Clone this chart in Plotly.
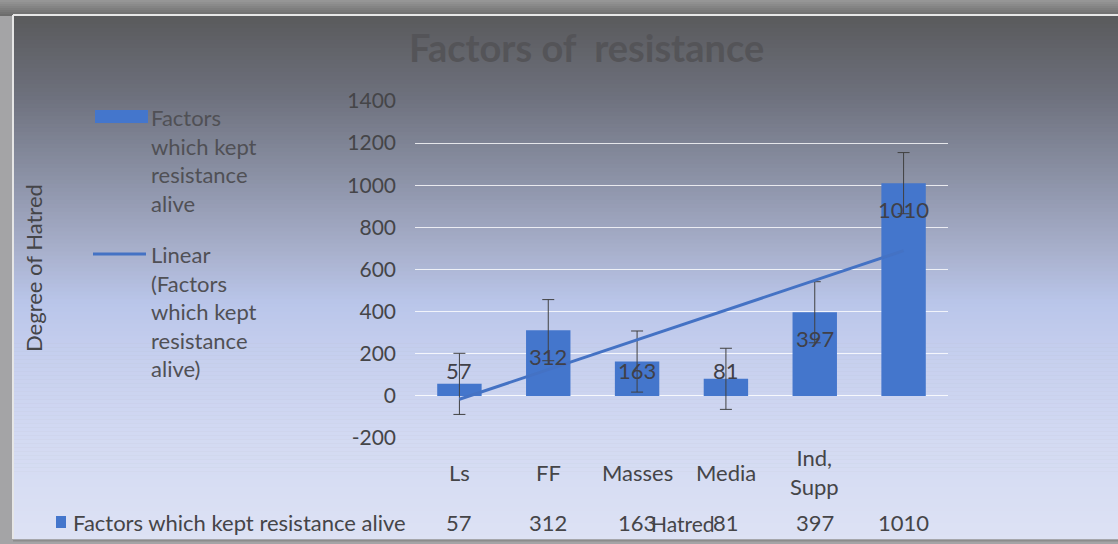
import numpy as np
import plotly.graph_objects as go

categories = ["Ls", "FF", "Masses", "Media", "Ind,<br>Supp", ""]
values = [57, 312, 163, 81, 397, 1010]
series_name = "Factors which kept resistance alive"
title_text = "Factors of  resistance"
y_title = "Degree of Hatred"
x_title = "Hatred"
y_ticks = [-200, 0, 200, 400, 600, 800, 1000, 1200, 1400]

W, H = 1118, 544
ML, MR, MT, MB = 415, 170, 101, 106
PW, PH = W - ML - MR, H - MT - MB
FONT = "Lato, 'Open Sans', sans-serif"
TXT = "#454548"
FS = 22

def px_x(px):
    return (px - ML) / PW

def px_y(py):
    return 1 - (py - MT) / PH

xs = np.arange(1, len(values) + 1)
vals = np.array(values, dtype=float)
# Excel standard error bar and linear trendline
std_err = vals.std(ddof=1) / np.sqrt(len(vals))
slope, intercept = np.polyfit(xs, vals, 1)
trend = slope * xs + intercept

fig = go.Figure()
fig.add_trace(go.Bar(
    x=xs, y=vals, width=0.5,
    marker=dict(color="#4476cc", line=dict(width=0)),
    error_y=dict(type="constant", value=std_err, color="#404040", thickness=1, width=6),
    showlegend=False,
))
fig.add_trace(go.Scatter(
    x=xs, y=trend, mode="lines",
    line=dict(color="#4472c4", width=3),
    showlegend=False,
))

shapes = []
stops = [(0.0, (0x5a, 0x5a, 0x5c)), (0.15, (0x6d, 0x70, 0x7c)), (0.3, (0x8a, 0x90, 0xa4)),
         (0.45, (0xa8, 0xb0, 0xcc)), (0.55, (0xba, 0xc6, 0xea)), (0.65, (0xc6, 0xcf, 0xee)),
         (0.8, (0xd2, 0xd9, 0xf2)), (1.0, (0xdd, 0xe2, 0xf4))]

def grad(t):
    for (t0, c0), (t1, c1) in zip(stops[:-1], stops[1:]):
        if t <= t1:
            f = (t - t0) / (t1 - t0)
            return tuple(int(round(a + (b - a) * f)) for a, b in zip(c0, c1))
    return stops[-1][1]

top_px, bot_px, left_px = 16, 539, 13
n = 131
for i in range(n):
    y0 = top_px + (bot_px - top_px) * i / n
    y1 = top_px + (bot_px - top_px) * (i + 1) / n + 0.5
    c = grad((i + 0.5) / n)
    shapes.append(dict(type="rect", xref="paper", yref="paper", layer="below",
                       x0=px_x(left_px), x1=px_x(W + 5), y0=px_y(y1), y1=px_y(y0),
                       fillcolor="rgb(%d,%d,%d)" % c, line=dict(width=0)))
# top shadow band
for i in range(8):
    g = 150 - i * 6
    shapes.append(dict(type="rect", xref="paper", yref="paper", layer="below",
                       x0=px_x(-5), x1=px_x(W + 5), y0=px_y(2 * i + 2), y1=px_y(2 * i),
                       fillcolor="rgb(%d,%d,%d)" % (g, g, g), line=dict(width=0)))
# frame lines
shapes.append(dict(type="line", xref="paper", yref="paper", layer="below",
                   x0=px_x(left_px), x1=px_x(W + 5), y0=px_y(15), y1=px_y(15),
                   line=dict(color="#e6e6e6", width=2)))
shapes.append(dict(type="line", xref="paper", yref="paper", layer="below",
                   x0=px_x(left_px), x1=px_x(left_px), y0=px_y(15), y1=px_y(bot_px),
                   line=dict(color="#e6e6e6", width=2)))
shapes.append(dict(type="line", xref="paper", yref="paper", layer="below",
                   x0=px_x(left_px), x1=px_x(W + 5), y0=px_y(bot_px + 1.5), y1=px_y(bot_px + 1.5),
                   line=dict(color="#8c8c8c", width=2)))

# custom legend
shapes.append(dict(type="rect", xref="paper", yref="paper",
                   x0=px_x(95), x1=px_x(148), y0=px_y(123), y1=px_y(110),
                   fillcolor="#4476cc", line=dict(width=0)))
shapes.append(dict(type="line", xref="paper", yref="paper",
                   x0=px_x(93), x1=px_x(146), y0=px_y(254), y1=px_y(254),
                   line=dict(color="#4472c4", width=3)))
# data table legend key
shapes.append(dict(type="rect", xref="paper", yref="paper",
                   x0=px_x(56), x1=px_x(66), y0=px_y(528), y1=px_y(516),
                   fillcolor="#4476cc", line=dict(width=0)))

ann = []
ann.append(dict(text="<b>" + title_text + "</b>", xref="paper", yref="paper",
                x=px_x(586), y=px_y(47), showarrow=False, xanchor="center", yanchor="middle",
                font=dict(family=FONT, size=38, color="#545458")))
ann.append(dict(text=y_title, xref="paper", yref="paper", x=px_x(33), y=px_y(268),
                textangle=-90, showarrow=False, xanchor="center", yanchor="middle",
                font=dict(family=FONT, size=FS, color=TXT)))
leg_font = dict(family=FONT, size=FS, color="#505055")
ann.append(dict(text="Factors<br>which kept<br>resistance<br>alive", xref="paper", yref="paper",
                x=px_x(149), y=px_y(102), showarrow=False, xanchor="left", yanchor="top",
                align="left", font=leg_font))
ann.append(dict(text="Linear<br>(Factors<br>which kept<br>resistance<br>alive)", xref="paper", yref="paper",
                x=px_x(149), y=px_y(239), showarrow=False, xanchor="left", yanchor="top",
                align="left", font=leg_font))
# category labels
for xi, c in zip(xs, categories):
    if c:
        ann.append(dict(text=c, xref="x", yref="paper", x=xi, y=px_y(472), showarrow=False,
                        xanchor="center", yanchor="middle", font=dict(family=FONT, size=FS, color=TXT)))
# data table
ann.append(dict(text=series_name, xref="paper", yref="paper", x=px_x(71), y=px_y(522),
                showarrow=False, xanchor="left", yanchor="middle",
                font=dict(family=FONT, size=FS, color=TXT)))
for xi, v in zip(xs, values):
    ann.append(dict(text=str(v), xref="x", yref="paper", x=xi, y=px_y(522), showarrow=False,
                    xanchor="center", yanchor="middle", font=dict(family=FONT, size=FS, color=TXT)))
ann.append(dict(text=x_title, xref="paper", yref="paper", x=px_x(683), y=px_y(523), showarrow=False,
                xanchor="center", yanchor="middle", font=dict(family=FONT, size=21, color=TXT)))
# data labels (inside end)
upp = 1600 / PH  # data units per pixel
for xi, v in zip(xs, values):
    ly = max(v - 26 * upp, 25 * upp)
    ann.append(dict(text=str(v), xref="x", yref="y", x=xi, y=ly, showarrow=False,
                    xanchor="center", yanchor="middle", font=dict(family=FONT, size=FS, color="#404048")))

fig.update_layout(
    width=W, height=H,
    margin=dict(l=ML, r=MR, t=MT, b=MB, pad=0),
    paper_bgcolor="#a4a4a6", plot_bgcolor="rgba(0,0,0,0)",
    shapes=shapes, annotations=ann,
    bargap=0.5,
    xaxis=dict(range=[0.5, 6.5], showticklabels=False, showgrid=False, zeroline=False,
               ticks="", showline=False),
    yaxis=dict(range=[-200, 1400], tickvals=y_ticks, ticktext=[str(t) for t in y_ticks],
               showgrid=True, gridcolor="rgba(255,255,255,0.8)", gridwidth=1,
               zeroline=True, zerolinecolor="rgba(255,255,255,0.85)", zerolinewidth=1,
               ticks="", ticklabelstandoff=18, showline=False,
               tickfont=dict(family=FONT, size=21, color=TXT)),
    font=dict(family=FONT),
)

fig.write_html("out.html", config={"displayModeBar": False},
               post_script="document.body.style.margin='0';document.body.style.padding='0';document.documentElement.style.overflow='hidden';")
